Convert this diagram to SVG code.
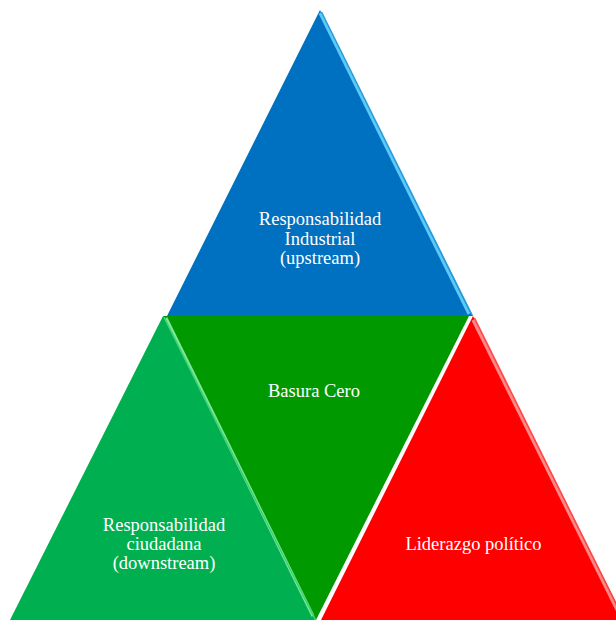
<svg xmlns="http://www.w3.org/2000/svg" width="616" height="620" viewBox="0 0 616 620">
  <defs>
    <style>
      .lbl { font-family: "Liberation Serif", "Times New Roman", serif; font-size: 18.5px; fill: #ffffff; text-anchor: middle; }
      .hl { fill: none; stroke-linecap: butt; }
    </style>
  </defs>
  <rect width="616" height="620" fill="#ffffff"/>
  <g id="industrial">
    <polygon points="320,10 473,316 167,316" fill="#0070c0"/>
    <line class="hl" x1="320" y1="13" x2="469" y2="314" stroke="#5ccaf5" stroke-width="3"/>
    <line class="hl" x1="321.5" y1="12" x2="472" y2="315" stroke="#2a9be0" stroke-width="1.5"/>
    <text class="lbl" x="320" y="225">Responsabilidad</text>
    <text class="lbl" x="320" y="244.5">Industrial</text>
    <text class="lbl" x="320" y="264">(upstream)</text>
  </g>
  <g id="basura-cero">
    <polygon points="163,316 469,316 316,620" fill="#009a00"/>
    <text class="lbl" x="314" y="397">Basura Cero</text>
  </g>
  <g id="ciudadana">
    <polygon points="163,316 316,620 10,620" fill="#00b050"/>
    <line class="hl" x1="166" y1="318" x2="313" y2="616" stroke="#7fe89a" stroke-width="3"/>
    <line class="hl" x1="164" y1="317" x2="315.5" y2="620" stroke="#3fd070" stroke-width="1.5"/>
    <text class="lbl" x="164" y="531">Responsabilidad</text>
    <text class="lbl" x="164" y="550">ciudadana</text>
    <text class="lbl" x="164" y="569">(downstream)</text>
  </g>
  <g id="liderazgo">
    <polygon points="473,316 625,620 321,620" fill="#ff0000"/>
    <line class="hl" x1="473" y1="320" x2="621" y2="618" stroke="#ff8a8a" stroke-width="3"/>
    <line class="hl" x1="474.5" y1="318" x2="624" y2="620" stroke="#ff4a4a" stroke-width="1.5"/>
    <text class="lbl" x="473.5" y="550">Liderazgo político</text>
  </g>
  <g id="connectors"/>
</svg>
